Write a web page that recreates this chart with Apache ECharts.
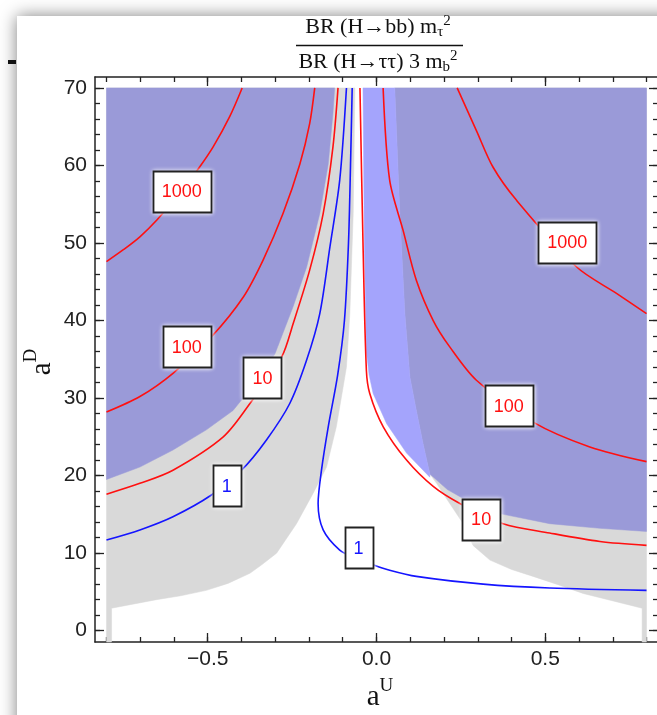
<!DOCTYPE html>
<html><head><meta charset="utf-8">
<script src="https://cdn.jsdelivr.net/npm/echarts@6/dist/echarts.min.js"></script>
<style>html,body{margin:0;padding:0;background:#fff}#c{width:657px;height:715px}</style>
</head><body><div id="c"></div>
<script>
// ---- axes ----
const xRange = [-0.834, 0.834];
const yRange = [-1.46, 71.41];
const xTicksMajor = [-0.5, 0, 0.5];
const xTicksMinor = [-0.8,-0.7,-0.6,-0.5,-0.4,-0.3,-0.2,-0.1,0,0.1,0.2,0.3,0.4,0.5,0.6,0.7,0.8];
const yTicksMajor = [0,10,20,30,40,50,60,70];
const yTicksMinor = [0,2,4,6,8,10,12,14,16,18,20,22,24,26,28,30,32,34,36,38,40,42,44,46,48,50,52,54,56,58,60,62,64,66,68,70];

// ---- shaded regions [aU, aD] ----
const grayLeft = [[-0.8,70],[-0.064,70],[-0.069,53.8],[-0.079,40.9],[-0.089,34],[-0.099,31.4],[-0.119,26.3],[-0.148,21.1],[-0.188,17.7],[-0.237,13.8],[-0.296,10.0],[-0.34,8.5],[-0.375,7.4],[-0.44,6.1],[-0.504,5.2],[-0.58,4.5],[-0.652,4.0],[-0.785,2.9],[-0.785,-1.46],[-0.8,-1.46]];
const blueLeft = [[-0.8,70],[-0.124,70],[-0.129,66.7],[-0.143,60.2],[-0.168,53.8],[-0.207,46.9],[-0.247,41.8],[-0.301,35.7],[-0.36,31.9],[-0.425,28.4],[-0.504,25.9],[-0.603,23.3],[-0.701,21.1],[-0.8,19.5]];
const grayRight = [[0.054,70],[0.069,53.8],[0.084,40.9],[0.099,32.7],[0.118,28.4],[0.138,24.1],[0.158,20.2],[0.178,19.0],[0.217,16.4],[0.257,13.8],[0.286,11.0],[0.336,9.1],[0.4,7.9],[0.464,7.0],[0.54,5.9],[0.612,4.8],[0.787,2.9],[0.787,-1.46],[0.8,-1.46],[0.8,70]];
const blueRight = [[0.054,70],[0.069,53.8],[0.084,40.9],[0.099,32.7],[0.118,28.4],[0.138,24.1],[0.158,20.2],[0.21,18.2],[0.267,16.8],[0.365,15.1],[0.513,13.8],[0.662,13.2],[0.8,12.8],[0.8,70]];
const lightBlue = [[-0.04,70],[-0.036,50],[-0.03,36],[-0.022,33],[-0.01,30.6],[0.03,26.7],[0.089,22.9],[0.158,19.8],[0.158,20.2],[0.138,24.1],[0.118,28.4],[0.099,32.7],[0.084,40.9],[0.069,53.8],[0.054,70]];

// ---- contour lines ----
const contour1000Left = [[-0.8,47.6],[-0.751,49.1],[-0.701,50.8],[-0.65,53.0],[-0.577,56.7],[-0.524,59.8],[-0.484,62.4],[-0.435,66.3],[-0.398,70]];
const contour100Left = [[-0.8,28.2],[-0.701,30.2],[-0.603,33.2],[-0.489,37.9],[-0.395,43.0],[-0.336,47.8],[-0.277,53.8],[-0.227,60.2],[-0.198,65.4],[-0.183,70]];
const contour10Left = [[-0.8,17.6],[-0.701,19.0],[-0.603,20.7],[-0.454,25.0],[-0.375,29.3],[-0.281,35.3],[-0.247,39.6],[-0.198,46.5],[-0.158,53.8],[-0.129,62.4],[-0.114,70]];
const contour1Left = [[-0.8,11.7],[-0.701,13.0],[-0.603,14.7],[-0.489,17.5],[-0.4,20.7],[-0.326,24.6],[-0.257,29.3],[-0.207,34.9],[-0.168,40.9],[-0.138,49.5],[-0.109,58.1],[-0.089,70]];
const contour1Center = [[-0.072,70],[-0.077,60],[-0.083,50],[-0.095,40],[-0.115,33],[-0.143,26.3],[-0.163,20.7],[-0.173,16.4],[-0.158,13.0],[-0.109,10.4],[-0.06,9.3],[-0.01,8.5],[0.039,7.8],[0.118,7.0],[0.316,6.0],[0.513,5.5],[0.8,5.2]];
const contour10Right = [[-0.049,70],[-0.04,50],[-0.03,33.6],[-0.02,30.6],[0.02,26.3],[0.089,22.0],[0.168,18.6],[0.247,16.4],[0.375,13.8],[0.513,12.6],[0.662,11.5],[0.8,11.0]];
const contour100Right = [[0.0196,70],[0.039,58.1],[0.079,51.6],[0.118,45.2],[0.168,40.0],[0.217,36.6],[0.296,32.3],[0.464,26.9],[0.632,23.7],[0.8,21.8]];
const contour1000Right = [[0.239,70],[0.296,64.5],[0.345,59.8],[0.415,55.5],[0.593,46.9],[0.711,43.5],[0.8,40.9]];

// ---- contour labels ----
const labelX = [-0.577,-0.562,-0.338,-0.444,-0.053,0.31,0.392,0.565];
const labelY = [56.7,36.6,32.6,18.7,10.7,14.4,29.0,50.1];
const labelText = ['1000','100','10','1','1','10','100','1000'];

const SANS = 'Liberation Sans, Arial, sans-serif';
const SERIF = 'Liberation Serif, Times New Roman, serif';
const INK = '#222';
const C_DARK = '#9a9ad8', C_LIGHT = '#a4a4fc', C_GRAY = '#d9d9d9';
const RED = '#ff1010', BLUE = '#1515ff';

const chart = echarts.init(document.getElementById('c'), null, {renderer:'canvas'});
const mctx = document.createElement('canvas').getContext('2d');

function fmtX(v){ const s = Math.abs(v).toFixed(1); return v < 0 ? '\u2212' + s : s; }

function xAx(pos, major){
  return {type:'value', position:pos, min:xRange[0], max:xRange[1],
    axisLine:{show:major, onZero:false, lineStyle:{color:INK, width:1.5}},
    axisTick:{show:true, inside:true, length: major?9:5, customValues: major?xTicksMajor:xTicksMinor, lineStyle:{color:INK,width:1.3}},
    axisLabel:{show: major && pos==='bottom', customValues:xTicksMajor, formatter:fmtX, fontSize:21, fontFamily:SANS, color:INK, margin:7},
    splitLine:{show:false}};
}
function yAx(pos, major){
  return {type:'value', position:pos, min:yRange[0], max:yRange[1],
    axisLine:{show:major, onZero:false, lineStyle:{color:INK, width:1.5}},
    axisTick:{show:true, inside:true, length: major?9:5, customValues: major?yTicksMajor:yTicksMinor, lineStyle:{color:INK,width:1.3}},
    axisLabel:{show: major && pos==='left', customValues:yTicksMajor, formatter:(v)=>String(v), fontSize:21, fontFamily:SANS, color:INK, margin:8},
    splitLine:{show:false}};
}

function poly(pts, color, z){
  return {type:'custom', coordinateSystem:'cartesian2d', xAxisIndex:0, yAxisIndex:0, data:pts, silent:true, z:z,
    encode:{x:0,y:1},
    renderItem:(params, api)=>{
      if (params.dataIndex !== 0) return null;
      return {type:'polygon', shape:{points: pts.map(p=>api.coord(p))}, style:{fill:color, stroke:color, lineWidth:0.5}};
    }};
}
function line(pts, color){
  return {type:'line', xAxisIndex:0, yAxisIndex:0, data:pts, showSymbol:false, smooth:0.3, silent:true, z:5,
    lineStyle:{color:color, width:1.6}};
}

const labelSeries = {
  type:'custom', coordinateSystem:'cartesian2d', xAxisIndex:0, yAxisIndex:0, silent:true, z:10,
  data: labelX.map((x,i)=>[x, labelY[i]]), encode:{x:0,y:1},
  renderItem:(params, api)=>{
    const c = api.coord([api.value(0), api.value(1)]);
    const t = labelText[params.dataIndex];
    mctx.font = '18px ' + SANS;
    const bw = Math.round(mctx.measureText(t).width) + 18, bh = 41;
    return {type:'group', children:[
      {type:'rect', shape:{x:Math.round(c[0]-bw/2)+0.5, y:Math.round(c[1]-bh/2)+0.5, width:bw, height:bh},
       style:{fill:'#fff', stroke:INK, lineWidth:1.8, shadowBlur:4, shadowColor:'rgba(255,255,255,1)'}},
      {type:'text', x:c[0], y:c[1]+1, style:{text:t, font:'18px '+SANS, fill: t==='1'?BLUE:RED, align:'center', verticalAlign:'middle'}}
    ]};
  }
};

// text layout helper
function textRow(pieces, cx, cy, family){
  const w = pieces.map(p=>{ mctx.font = p.s+'px '+family; return mctx.measureText(p.t).width; });
  const total = w.reduce((a,b)=>a+b,0);
  let x = cx - total/2;
  return pieces.map((p,i)=>{ const el = {type:'text', x:x, y:cy+(p.dy||0), style:{text:p.t, font:p.s+'px '+family, fill:'#111', verticalAlign:'middle', align:'left'}}; x += w[i]; return el; });
}

const titleNum = textRow([{t:'BR (H\u2192bb) m',s:22},{t:'\u03c4',s:15,dy:5},{t:'2',s:15,dy:-6}], 378, 27, SERIF);
const titleDen = textRow([{t:'BR (H\u2192\u03c4\u03c4) 3 m',s:22},{t:'b',s:15,dy:5},{t:'2',s:15,dy:-6}], 378, 62, SERIF);
const xTitle = textRow([{t:'a',s:29},{t:'U',s:19,dy:-11}], 380, 697, SERIF);
const yTitle = textRow([{t:'a',s:29},{t:'D',s:19,dy:-11}], 0, 0, SERIF);

const option = {
  backgroundColor:'#fff',
  animation:false,
  grid:{left:95, top:77, width:563, height:565, containLabel:false, outerBoundsMode:'none'},
  xAxis:[xAx('bottom',true), xAx('bottom',false), xAx('top',true), xAx('top',false)],
  yAxis:[yAx('left',true), yAx('left',false), yAx('right',true), yAx('right',false)],
  graphic:[
    {type:'rect', z:-100, shape:{x:17, y:16, width:720, height:740}, style:{fill:'#fff', shadowBlur:16, shadowColor:'rgba(0,0,0,0.5)'}},
    {type:'rect', z:-99, shape:{x:8, y:60, width:8, height:4}, style:{fill:'#111'}},
    ...titleNum, ...titleDen,
    {type:'line', shape:{x1:296, y1:45.5, x2:463, y2:45.5}, style:{stroke:'#111', lineWidth:1.3}},
    ...xTitle,
    {type:'group', x:42, y:362, rotation:Math.PI/2, children:yTitle}
  ],
  series:[
    poly(grayLeft, C_GRAY, 1), poly(grayRight, C_GRAY, 1),
    poly(blueLeft, C_DARK, 2), poly(blueRight, C_DARK, 2), poly(lightBlue, C_LIGHT, 2),
    line(contour1000Left, RED), line(contour100Left, RED), line(contour10Left, RED),
    line(contour1Left, BLUE), line(contour1Center, BLUE),
    line(contour10Right, RED), line(contour100Right, RED), line(contour1000Right, RED),
    labelSeries
  ]
};
chart.setOption(option);
</script></body></html>
